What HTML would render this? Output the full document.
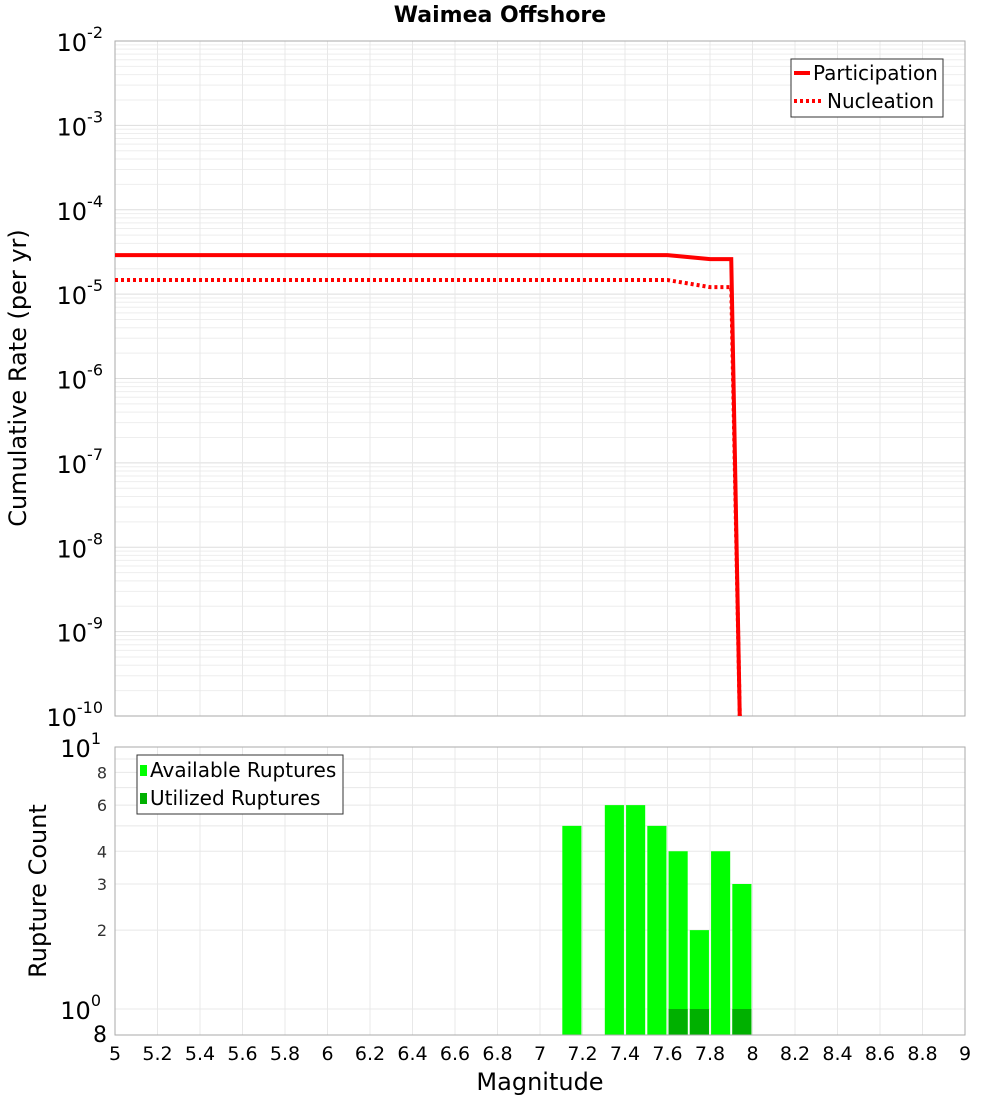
<!DOCTYPE html>
<html><head><meta charset="utf-8"><style>
body{margin:0;background:#fff;font-family:"DejaVu Sans","Liberation Sans",sans-serif}
svg text{font-family:"DejaVu Sans","Liberation Sans",sans-serif}
</style></head><body>
<svg id="c" width="1000" height="1100" xmlns="http://www.w3.org/2000/svg">
<text x="500" y="22" text-anchor="middle" font-size="22" font-weight="bold">Waimea Offshore</text>
<g id="topPlot"></g>
<g id="botPlot"></g>
<text transform="translate(26,378) rotate(-90)" text-anchor="middle" font-size="24">Cumulative Rate (per yr)</text>
<text transform="translate(46,891) rotate(-90)" text-anchor="middle" font-size="24">Rupture Count</text>
<text x="540" y="1090" text-anchor="middle" font-size="24">Magnitude</text>
<g id="legends"></g>
</svg>
<script>
const partMags=[5,5.1,7.6,7.8,7.9,7.94];
const partRates=[2.9e-5,2.9e-5,2.9e-5,2.6e-5,2.6e-5,1e-10];
const nuclMags=[5,7.6,7.8,7.9,7.94];
const nuclRates=[1.47e-5,1.47e-5,1.21e-5,1.21e-5,1e-10];
const binMags=[7.15,7.35,7.45,7.55,7.65,7.75,7.85,7.95];
const availCounts=[5,6,6,5,4,2,4,3];
const usedMags=[7.65,7.75,7.95];
const usedCounts=[1,1,1];
const xTicks=[5,5.2,5.4,5.6,5.8,6,6.2,6.4,6.6,6.8,7,7.2,7.4,7.6,7.8,8,8.2,8.4,8.6,8.8,9];
const rateExps=[-2,-3,-4,-5,-6,-7,-8,-9,-10];
const countTicks=[8,6,4,3,2];

const NS="http://www.w3.org/2000/svg";
const X0=115,X1=965,T0=41,T1=716,B0=747,B1=1035;
const xs=m=>X0+(m-5)*(X1-X0)/4;
const yR=v=>T0+(-2-Math.log10(v))*(T1-T0)/8;
const yC=v=>B0+(1-Math.log10(v))*262;
function el(p,t,a){const e=document.createElementNS(NS,t);for(const k in a)e.setAttribute(k,a[k]);p.appendChild(e);return e;}
const topG=document.getElementById('topPlot'),botG=document.getElementById('botPlot');

for(let d=-10;d<-2;d++)for(let k=1;k<10;k++){const y=yR(k*Math.pow(10,d));
 const l=el(topG,'line',{x1:X0,x2:X1,y1:y,y2:y,stroke:k==1?'#ddd':'#eee','stroke-width':1});
 
 }
for(const t of xTicks){for(const [g,a,b] of [[topG,T0,T1],[botG,B0,B1]]){
 const l=el(g,'line',{x1:xs(t),x2:xs(t),y1:a,y2:b,stroke:'#e8e8e8'});
 
 }}
el(topG,'rect',{x:X0,y:T0,width:X1-X0,height:T1-T0,fill:'none',stroke:'#aaa'});
for(const e of rateExps){const t=el(topG,'text',{x:103,y:yR(Math.pow(10,e))+10,'text-anchor':'end','font-size':24});
 
 
 t.innerHTML='10<tspan dy="-13" font-size="16">'+e+'</tspan>';}
function path(ms,vs){return ms.map((m,i)=>(i?'L':'M')+xs(m)+','+Math.min(yR(vs[i]),T1)).join(' ');}
const pp=el(topG,'path',{d:path(partMags,partRates),fill:'none',stroke:'#f00','stroke-width':4});


const np=el(topG,'path',{d:path(nuclMags,nuclRates),fill:'none',stroke:'#f00','stroke-width':4,'stroke-dasharray':'3,3'});



for(let k=1;k<=10;k++){const y=yC(k);const l=el(botG,'line',{x1:X0,x2:X1,y1:y,y2:y,stroke:'#e8e8e8'});
 
 }
const bw=0.09;
binMags.forEach((m,i)=>{const r=el(botG,'rect',{x:xs(m-bw/2),y:yC(availCounts[i]),width:xs(m+bw/2)-xs(m-bw/2),height:B1-yC(availCounts[i]),fill:'#00ff00'});
 
 });
usedMags.forEach((m,i)=>{const r=el(botG,'rect',{x:xs(m-bw/2),y:yC(usedCounts[i]),width:xs(m+bw/2)-xs(m-bw/2),height:B1-yC(usedCounts[i]),fill:'#00b000'});
 
 });
el(botG,'rect',{x:X0,y:B0,width:X1-X0,height:B1-B0,fill:'none',stroke:'#aaa'});
for(const c of countTicks){const t=el(botG,'text',{x:107,y:yC(c)+6,'text-anchor':'end','font-size':16,fill:'#333'});
 
 
 t.textContent=c;}
for(const [v,lab] of [[10,'1'],[1,'0']]){const t=el(botG,'text',{x:101,y:yC(v)+10,'text-anchor':'end','font-size':24});
 
 
 t.innerHTML='10<tspan dy="-13" font-size="16">'+lab+'</tspan>';}
{const t=el(botG,'text',{x:107,y:1042,'text-anchor':'end','font-size':22});
 
 
 t.textContent='8';}
for(const v of xTicks){const t=el(botG,'text',{x:xs(v),y:1060,'text-anchor':'middle','font-size':19});
 
 
 t.textContent=String(v);}
</script>
<svg width="0" height="0" style="position:absolute"></svg>
<script>
const lg=document.getElementById('legends');
lg.innerHTML='<g>'+
'<rect x="791" y="59" width="152" height="58" fill="#fff" stroke="#333"/>'+
'<line x1="794" y1="73" x2="810" y2="73" stroke="#f00" stroke-width="4"/>'+
'<text x="813" y="80" font-size="20">Participation</text>'+
'<line x1="794" y1="101" x2="821" y2="101" stroke="#f00" stroke-width="4" stroke-dasharray="3,3"/>'+
'<text x="827" y="108" font-size="20">Nucleation</text></g>'+
'<g>'+
'<rect x="137" y="755" width="206" height="59" fill="#fff" stroke="#333"/>'+
'<rect x="140" y="765" width="7" height="11" fill="#0f0"/>'+
'<text x="150" y="777" font-size="20">Available Ruptures</text>'+
'<rect x="140" y="793" width="7" height="11" fill="#00b000"/>'+
'<text x="150" y="805" font-size="20">Utilized Ruptures</text></g>';
</script>
</body></html>
